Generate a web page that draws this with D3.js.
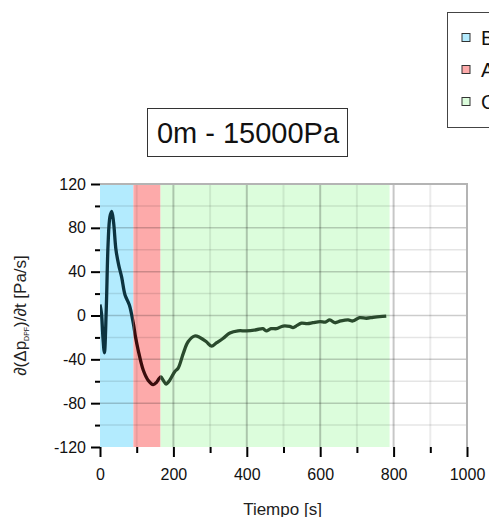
<!DOCTYPE html>
<html>
<head>
<meta charset="utf-8">
<script src="https://cdn.jsdelivr.net/npm/d3@7"></script>
<style>
 body { margin: 0; background: #fff; overflow: hidden; }
 text { font-family: "Liberation Sans", Arial, sans-serif; }
</style>
</head>
<body>
<div id="chart"></div>
<script>
var w = 489
var h = 517
var margin = {top: 184, right: 22, bottom: 70, left: 100}
var width = 367
var height = 263

// data
var time = [0, 4, 8, 12, 17, 22, 27, 32, 37, 43.5, 51, 59, 68, 80, 90.7, 97, 104, 118, 131, 145, 154, 160, 166, 172, 180, 190, 204, 213, 227, 240, 258, 272, 290, 304, 317, 335, 354, 376, 399, 426, 444, 453, 466, 481, 499, 517, 526, 537, 549, 565, 580, 600, 614, 626, 640, 656, 676, 689, 707, 726, 744, 762, 780]
var dpdt = [10, 2, -20, -34, 5, 65, 90, 95, 85, 60, 46, 35, 19, 9.6, -7, -20, -31.5, -50, -59, -63, -61, -58, -56, -59, -62.5, -59, -51, -48, -34.5, -24, -18.7, -20, -24, -28, -25, -21, -16, -14, -14, -13, -12, -14, -12, -12, -9.6, -10, -11, -9, -7, -7.5, -6.6, -5.5, -6, -4, -6.6, -5, -4, -5, -2, -2.5, -1.7, -1, -0.5]

var bandNames = ["Bajada", "Aumento", "Constante"]
var bandStart = [0, 91, 165]
var bandEnd = [91, 165, 789]
var bandFill = ["#b3ebfe", "#fdaaaa", "#dcfddc"]
var lineColor = ["#0c3340", "#3a0c0c", "#2a4a2d"]

var xTicks = [0, 200, 400, 600, 800, 1000]
var xMinor = [100, 300, 500, 700, 900]
var yTicks = [-120, -80, -40, 0, 40, 80, 120]
var yMinor = [-100, -60, -20, 20, 60, 100]

var svg = d3.select("#chart").append("svg").attr("width", w).attr("height", h)

var xScale = d3.scaleLinear().domain([0, 1000]).range([0, width])
var yScale = d3.scaleLinear().domain([-120, 120]).range([height, 0])

var g = svg.append("g").attr("transform", "translate(" + margin.left + "," + margin.top + ")")

// bands
g.selectAll(".band").data(bandStart).enter().append("rect")
 .attr("x", (d, i) => xScale(d))
 .attr("y", 0)
 .attr("width", (d, i) => xScale(bandEnd[i]) - xScale(d))
 .attr("height", height)
 .attr("fill", (d, i) => bandFill[i])

// grid
g.selectAll(".hminor").data(yMinor).enter().append("line")
 .attr("x1", 0).attr("x2", width)
 .attr("y1", d => yScale(d)).attr("y2", d => yScale(d))
 .attr("stroke", "#000").attr("stroke-opacity", 0.1).attr("stroke-width", 1.5)
g.selectAll(".hmajor").data(yTicks.slice(1, -1)).enter().append("line")
 .attr("x1", 0).attr("x2", width)
 .attr("y1", d => yScale(d)).attr("y2", d => yScale(d))
 .attr("stroke", "#000").attr("stroke-opacity", 0.2).attr("stroke-width", 1.5)
g.selectAll(".vminor").data(xMinor).enter().append("line")
 .attr("y1", 0).attr("y2", height)
 .attr("x1", d => xScale(d)).attr("x2", d => xScale(d))
 .attr("stroke", "#000").attr("stroke-opacity", 0.08).attr("stroke-width", 2)
g.selectAll(".vmajor").data(xTicks.slice(1, -1)).enter().append("line")
 .attr("y1", 0).attr("y2", height)
 .attr("x1", d => xScale(d)).attr("x2", d => xScale(d))
 .attr("stroke", "#000").attr("stroke-opacity", 0.22).attr("stroke-width", 2)

// frame top/right
g.append("path")
 .attr("d", "M0,0H" + width + "V" + height)
 .attr("fill", "none").attr("stroke", "#b4b4b4").attr("stroke-width", 2)

// curve, coloured per band
var pts = time.map((t, i) => [t, dpdt[i]])
var line = d3.line()
 .x(d => xScale(d[0]))
 .y(d => yScale(d[1]))
 .curve(d3.curveCatmullRom)

var defs = svg.append("defs")
bandStart.forEach(function(s, i) {
 defs.append("clipPath").attr("id", "clip" + i)
   .append("rect")
   .attr("x", xScale(s)).attr("y", -10)
   .attr("width", xScale(bandEnd[i]) - xScale(s))
   .attr("height", height + 20)
 g.append("path")
   .datum(pts)
   .attr("clip-path", "url(#clip" + i + ")")
   .attr("d", line)
   .attr("fill", "none")
   .attr("stroke", lineColor[i])
   .attr("stroke-width", 3.3)
   .attr("stroke-linejoin", "round")
})

// axes
var fmt = d => String(d)
var xAxis = g.append("g").attr("transform", "translate(0," + height + ")")
 .call(d3.axisBottom(xScale).tickValues(xTicks).tickSize(10).tickPadding(12).tickFormat(fmt))
xAxis.append("g").call(d3.axisBottom(xScale).tickValues(xMinor).tickSize(6).tickFormat(""))
var yAxis = g.append("g")
 .call(d3.axisLeft(yScale).tickValues(yTicks).tickSize(9).tickPadding(5).tickFormat(fmt))
yAxis.append("g").call(d3.axisLeft(yScale).tickValues(yMinor).tickSize(5).tickFormat(""))

svg.selectAll(".domain").attr("stroke", "#000").attr("stroke-width", 2)
svg.selectAll(".tick line").attr("stroke", "#000").attr("stroke-width", 2)
svg.selectAll(".tick text").attr("font-size", 16).attr("fill", "#111")
 .style("font-family", "'Liberation Sans', Arial, sans-serif")
xAxis.selectAll(".domain").attr("d", "M0,0H" + width)
yAxis.selectAll(".domain").attr("d", "M0,0V" + height)
xAxis.selectAll("g > g .domain").remove()
yAxis.selectAll("g > g .domain").remove()

// axis titles
svg.append("text")
 .attr("x", margin.left + width / 2 - 1)
 .attr("y", 515)
 .attr("text-anchor", "middle")
 .attr("font-size", 17)
 .attr("fill", "#222")
 .text("Tiempo [s]")

var yl = svg.append("text")
 .attr("transform", "translate(26," + (margin.top + height / 2) + ") rotate(-90)")
 .attr("text-anchor", "middle")
 .attr("font-size", 17)
 .attr("fill", "#222")
yl.append("tspan").text("\u2202(\u0394p")
yl.append("tspan").attr("font-size", 7).attr("dy", 3).text("DPF")
yl.append("tspan").attr("dy", -3).text(")/\u2202t [Pa/s]")

// title box
svg.append("rect")
 .attr("x", 147.5).attr("y", 108.5).attr("width", 200).attr("height", 48)
 .attr("fill", "#fff").attr("stroke", "#333").attr("stroke-width", 1)
svg.append("text")
 .attr("x", 248).attr("y", 143)
 .attr("text-anchor", "middle")
 .attr("font-size", 29)
 .attr("fill", "#111")
 .text("0m - 15000Pa")

// legend
var legend = svg.append("g")
legend.append("rect")
 .attr("x", 447.5).attr("y", 12.5).attr("width", 60).attr("height", 115)
 .attr("fill", "#fff").attr("stroke", "#444").attr("stroke-width", 1)
var item = legend.selectAll(".item").data(bandNames).enter().append("g")
 .attr("transform", (d, i) => "translate(462," + (38 + i * 32) + ")")
item.append("rect")
 .attr("x", 0).attr("y", -4.5).attr("width", 8).attr("height", 8)
 .attr("fill", (d, i) => bandFill[i])
 .attr("stroke", "#333").attr("stroke-width", 1)
item.append("text")
 .attr("x", 19).attr("y", 7)
 .attr("font-size", 20)
 .attr("fill", "#111")
 .text(d => d)
</script>
</body>
</html>
